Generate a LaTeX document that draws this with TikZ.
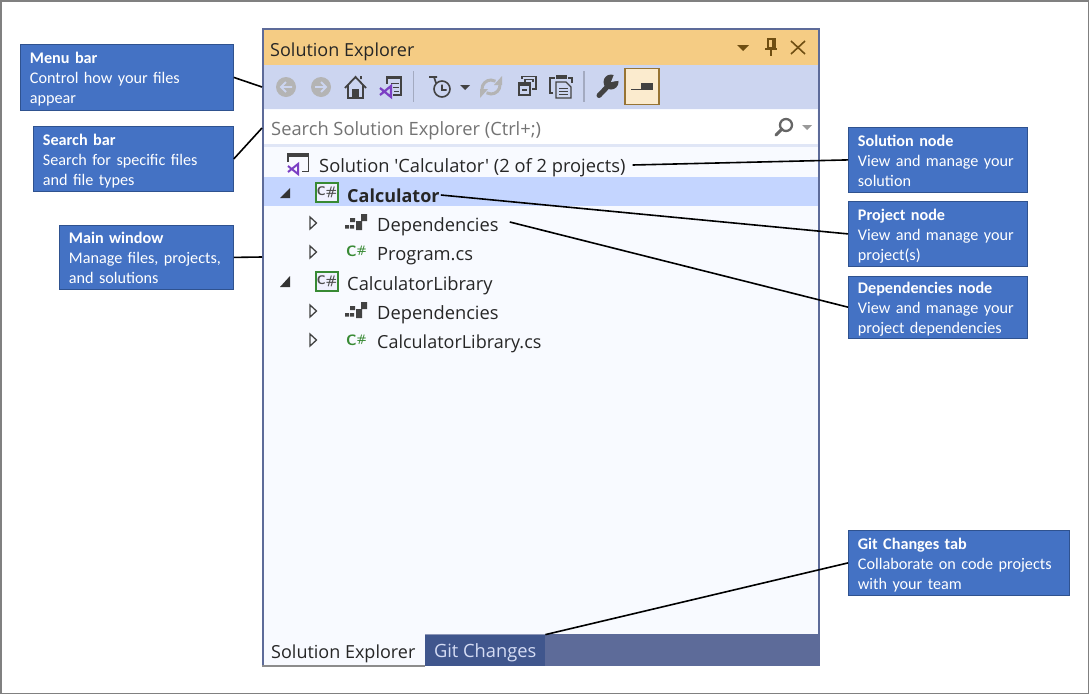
\documentclass[tikz,border=0pt]{standalone}
\usepackage{fontspec}
\setmainfont{Carlito}
\newfontfamily\uifont{Open Sans}
\usetikzlibrary{positioning,calc}
\definecolor{calloutblue}{HTML}{4472C4}
\definecolor{calloutedge}{HTML}{2F528F}
\definecolor{titlebar}{HTML}{F5CC84}
\definecolor{toolbar}{HTML}{CCD5F0}
\definecolor{panel}{HTML}{F8FAFF}
\definecolor{selrow}{HTML}{C4D5FF}
\definecolor{strip}{HTML}{5D6B99}
\definecolor{gittabfill}{HTML}{40568D}
\definecolor{gittext}{HTML}{D5DCF4}
\definecolor{csgreen}{HTML}{388A34}
\definecolor{vspurple}{HTML}{7B3FC4}
\definecolor{icondark}{HTML}{424242}
\definecolor{icongrey}{HTML}{B4B4B4}
\definecolor{titleicon}{HTML}{6F4E12}
\tikzset{
  callout/.style={draw=calloutedge, fill=calloutblue, text=white, anchor=north west, align=left,
    inner xsep=9.5pt, inner ysep=1pt, font=\fontsize{16.2}{20}\selectfont, line width=0.8pt},
  rowlabel/.style={anchor=west, inner sep=0pt, text height=18pt, text depth=4pt, text=black!85,
    font=\uifont\fontsize{18.3}{22}\selectfont},
  tablabel/.style={rowlabel, font=\uifont\fontsize{18}{22}\selectfont},
  leader/.style={draw=black, line width=1.6pt},
  openarrow/.style={draw=icondark, fill=panel, line width=1.3pt, line join=miter},
  closedarrow/.style={fill=black!80},
}
% callout text, same height whatever the letters
\newcommand{\calloutbody}[3]{\rule{0pt}{16pt}\textbf{#1}\\#2\\#3\rule[-3.5pt]{0pt}{3.5pt}}
% tree icons
\newcommand{\csproject}[2]{%
  \draw[csgreen, fill=black!8!blue!6, line width=1.3pt] (#1-11,#2-9.5) rectangle (#1+11,#2+9.5);
  \node[inner sep=0pt, text=black!70, font=\sffamily\bfseries\fontsize{12.5}{12}\selectfont] at (#1,#2) {C\#};}
\newcommand{\csfile}[2]{%
  \node[inner sep=0pt, text=csgreen, font=\sffamily\bfseries\fontsize{15}{12}\selectfont] at (#1,#2) {C\raisebox{2.5pt}{\fontsize{11}{10}\selectfont\#}};}
\newcommand{\depicon}[2]{%
  \fill[icondark] (#1-11,#2+1) rectangle +(4,3.5) (#1-6,#2+1) rectangle +(4,3.5) (#1-6,#2-6) rectangle +(5,4)
    (#1,#2-3) rectangle +(6,9) (#1+5,#2-10) rectangle +(6,7);}
\newcommand{\treearrow}[2]{\draw[openarrow] (#1-3,#2-6) -- (#1+3.5,#2) -- (#1-3,#2+6) -- cycle;}
\begin{document}
\begin{tikzpicture}[x=1pt,y=-1pt]
\useasboundingbox (0,0) rectangle (1089,694);
\fill[white] (0,0) rectangle (1089,694);
\draw[black!50, line width=1.5pt] (0.75,0.75) rectangle (1088.25,693.25);

% window
\fill[panel] (263,29) rectangle (819,666);
\fill[titlebar] (263,29) rectangle (818,65);
\fill[toolbar] (263,65) rectangle (818,109);
\fill[white] (264,110) rectangle (817,144);
\fill[toolbar!60] (263,144) rectangle (818,147);
\fill[selrow] (263,177) rectangle (818,206);
\fill[strip] (425,634) rectangle (819,666);
\node[fill=gittabfill, minimum width=120pt, minimum height=31pt, inner sep=0pt, anchor=south west,
  text=gittext, font=\uifont\fontsize{18.3}{22}\selectfont] (gittab) at (425,666) {\rule{0pt}{19pt}Git Changes};
\draw[strip!70, line width=1pt] (gittab.north west) -- (gittab.north east);
\draw[strip, line width=2pt] (262.5,666) -- (262.5,28.5) -- (818.5,28.5) -- (818.5,666);
\draw[black!45, line width=1.5pt] (262,666) -- (425,666);

% labels
\node[tablabel] (title) at (270,49) {Solution Explorer};
\node[rowlabel, text=black!55] (search) at (271,128) {Search Solution Explorer (Ctrl+;)};
\node[rowlabel] (solution) at (319,165) {Solution 'Calculator' (2 of 2 projects)};
\node[rowlabel, font=\uifont\bfseries\fontsize{18}{22}\selectfont] (calc) at (347,195) {Calculator};
\node[rowlabel] (deps) at (377,224) {Dependencies};
\node[rowlabel] (prog) at (377,253) {Program.cs};
\node[rowlabel] (lib) at (347,283) {CalculatorLibrary};
\node[rowlabel] (libdeps) at (377,312) {Dependencies};
\node[tablabel] (libfile) at (377,341) {CalculatorLibrary.cs};
\node[tablabel] (soltab) at (271,651) {Solution Explorer};

% title bar buttons
\fill[titleicon] (737,45) -- (749,45) -- (743,51) -- cycle;
\draw[titleicon, line width=1.5pt] (768,39) rectangle (775,48) (765,49) -- (777,49) (771,49) -- (771,56);
\fill[titleicon] (772,39) rectangle (775,48);
\draw[titleicon, line width=1.6pt] (791,41) -- (805,54) (805,41) -- (791,54);

% toolbar icons
\fill[icongrey] (286,87) circle (10pt) (321,87) circle (10pt);
\draw[toolbar, line width=1.8pt] (292,87) -- (281,87) (286,82) -- (281,87) -- (286,92);
\draw[toolbar, line width=1.8pt] (315,87) -- (326,87) (321,82) -- (326,87) -- (321,92);
% home
\draw[icondark, line width=1.8pt, line join=miter] (345,88) -- (355.5,77) -- (366,88) (348,85) -- (348,98) -- (363,98) -- (363,85) (361,79) -- (361,76);
\fill[icondark] (352,89) rectangle (359,98);
% solution page
\draw[icondark, line width=1.2pt] (387,76.5) rectangle (401,95);
\fill[icondark] (387,76) rectangle (401,79);
\draw[icondark, line width=1pt] (391,83) -- (399,83) (391,87) -- (399,87) (394,91) -- (399,91);
\fill[toolbar] (378,84) rectangle (393,99);
\draw[vspurple, line width=2.2pt, line join=miter] (380,88) -- (391,97) -- (391,86) -- (380,95);
\draw[black!20!toolbar, line width=1.2pt] (413.5,71) -- (413.5,102);
% history
\draw[icondark, line width=1.6pt] (442,89) circle (8pt) (442,84.5) -- (442,90) -- (446.5,90);
\draw[icondark, line width=1.6pt] (429,77) -- (437,77) (434,77) -- (436,83);
\fill[icondark] (460,85) -- (470,85) -- (465,90) -- cycle;
% sync
\draw[icongrey, line width=3pt] (482,89) arc[start angle=180, end angle=60, radius=9pt] (500,85) arc[start angle=0, end angle=-120, radius=9pt];
\fill[icongrey] (494,85) -- (502,85) -- (502,76) -- cycle (488,89) -- (480,89) -- (480,98) -- cycle;
% collapse
\draw[icondark, line width=1.4pt] (522,79) -- (522,76.5) -- (536,76.5) -- (536,89) -- (532,89) (525,82) -- (525,79.5) -- (533,79.5) -- (533,82) (519,83) rectangle (530,95);
\fill[icondark] (519,83) rectangle (530,85.5);
\draw[icondark, line width=1.4pt] (522,90) -- (527,90);
% properties page
\draw[icondark, line width=1.4pt] (553,93) -- (550,93) -- (550,78) -- (555,78) (568,78) -- (572,78) -- (572,83);
\draw[icondark, line width=1.4pt, fill=toolbar] (556,82) -- (566,82) -- (571,87) -- (571,98) -- (556,98) -- cycle;
\draw[icondark, line width=1pt] (559,88) -- (568,88) (559,91) -- (568,91) (559,94) -- (568,94);
\fill[icondark] (556,75) rectangle (567,79);
\draw[black!20!toolbar, line width=1.2pt] (584,71) -- (584,102);
% wrench
\draw[icondark, line width=5pt, line cap=round] (599,95.5) -- (610,84);
\fill[icondark] (611,82) circle (7.5pt);
\fill[toolbar] (611,82) -- (615,72) -- (622,72) -- (622,80) -- cycle;
% toggle
\node[draw=titleicon!70!titlebar, fill=titlebar!40!white, line width=1.2pt, minimum width=34pt, minimum height=36pt, inner sep=0pt] (toggle) at (642,86.5) {};
\fill[icondark] (641,83) rectangle (653,90);
\draw[icondark, line width=1.4pt] (631,89.5) -- (641,89.5);
% search box
\draw[black!60, line width=3pt, line cap=round] (776,135) -- (782,129);
\draw[black!60, line width=2.3pt] (786,125) circle (6pt);
\fill[black!40] (802,125) -- (812,125) -- (807,130) -- cycle;

% tree icons
\draw[icondark, line width=1.3pt] (288,162) -- (288,153.5) -- (308.5,153.5) -- (308.5,171.5) -- (302,171.5);
\fill[icondark] (288,153) rectangle (309,157);
\draw[vspurple, line width=2pt, line join=miter] (288,166) -- (298,174) -- (298,164) -- (288,172);
\fill[closedarrow] (290,188) -- (290,198) -- (280,198) -- cycle;
\fill[closedarrow] (290,276) -- (290,287) -- (280,287) -- cycle;
\csproject{327}{192.5}
\csproject{327}{281.5}
\treearrow{313}{223}
\treearrow{313}{252}
\treearrow{313}{311}
\treearrow{313}{340}
\depicon{356}{224}
\depicon{356}{312}
\csfile{356.5}{251}
\csfile{356.5}{340}

% callouts
\node[callout, text width=194pt, minimum height=66pt] (menubar) at (20,44) {\calloutbody{Menu bar}{Control how your files}{appear}};
\node[callout, text width=181pt, minimum height=65pt] (searchbar) at (33,126) {\calloutbody{Search bar}{Search for specific files}{and file types}};
\node[callout, text width=155pt, minimum height=64pt] (mainwindow) at (59,225) {\calloutbody{Main window}{Manage files, projects,}{and solutions}};
\node[callout, text width=160pt, minimum height=65pt] (solutionnode) at (848,127) {\calloutbody{Solution node}{View and manage your}{solution}};
\node[callout, text width=160pt, minimum height=65pt] (projectnode) at (848,201) {\calloutbody{Project node}{View and manage your}{project(s)}};
\node[callout, text width=160pt, minimum height=61pt] (depnode) at (848,276) {\calloutbody{Dependencies node}{View and manage your}{project dependencies}};
\node[callout, text width=202pt, minimum height=65pt] (gitnode) at (848,530) {\calloutbody{Git Changes tab}{Collaborate on code projects}{with your team}};

% connectors
\coordinate (menuend) at (262,87);
\coordinate (searchend) at (262,128);
\coordinate (mainend) at (262,257);
\draw[leader] (menubar.east) -- (menuend);
\draw[leader] (searchbar.east) -- (searchend);
\draw[leader] (mainwindow.east) -- (mainend);
\draw[leader] (solutionnode.west) -- ([xshift=7pt]solution.east);
\draw[leader] (projectnode.west) -- ([xshift=1pt]calc.east);
\draw[leader] (depnode.west) -- ([xshift=11pt,yshift=2pt]deps.east);
\draw[leader] (gitnode.west) -- (gittab.north east);
\end{tikzpicture}
\end{document}
